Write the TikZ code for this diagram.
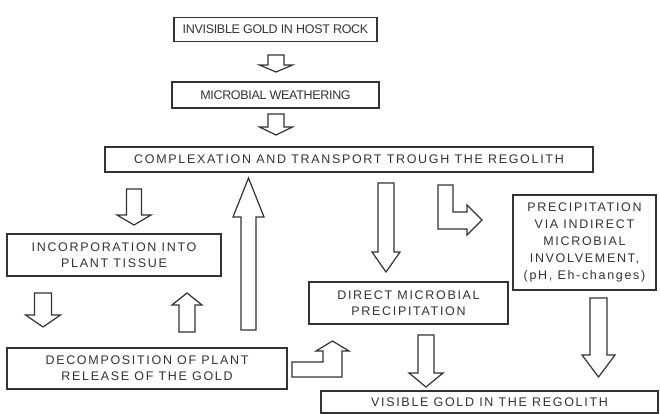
\documentclass[tikz,border=0pt]{standalone}
\usepackage{fontspec}
\setmainfont{Liberation Sans}
\newfontfamily\wideff[LetterSpace=13.5]{Liberation Sans}
\newfontfamily\tightff[LetterSpace=-2.5]{Liberation Sans}
\newcommand\vblock[6]{%
  \draw[barrow] ({#1-#5},#2) -- ({#1+#5},#2) -- ({#1+#5},#3) -- ({#1+#6},#3) -- (#1,#4)
   -- ({#1-#6},#3) -- ({#1-#5},#3) -- cycle;}
\tikzset{
  box/.style={draw=black!80, line width=1.3pt, align=center, inner sep=0pt,
    font=\wideff\fontsize{12.5}{16}\selectfont, text=black!80},
  barrow/.style={draw=black!80, line width=1.2pt, line join=miter, fill=white}
}
\begin{document}
\begin{tikzpicture}[x=1pt,y=-1pt]
\useasboundingbox (0,0) rectangle (660,414);
\node[box, font=\tightff\fontsize{12.5}{16}\selectfont, minimum width=203pt, minimum height=24pt] (host) at (275.5,29.5) {INVISIBLE GOLD IN HOST ROCK};
\node[box, font=\tightff\fontsize{12.5}{16}\selectfont, minimum width=207pt, minimum height=26pt] (weath) at (275.5,95) {MICROBIAL WEATHERING};
\node[box, minimum width=488pt, minimum height=25pt] (compl) at (349,159.5) {COMPLEXATION AND TRANSPORT TROUGH THE REGOLITH};
\node[box, minimum width=214pt, minimum height=42pt] (incorp) at (114,255) {INCORPORATION INTO\\PLANT TISSUE};
\node[box, minimum width=280pt, minimum height=41pt] (decomp) at (147,368.5) {DECOMPOSITION OF PLANT\\RELEASE OF THE GOLD};
\node[box, minimum width=199pt, minimum height=42pt] (direct) at (408.5,303) {DIRECT MICROBIAL\\PRECIPITATION};
\node[box, font=\wideff\fontsize{12.5}{17}\selectfont, minimum width=143pt, minimum height=95pt] (indirect) at (584.5,242.5) {PRECIPITATION\\VIA INDIRECT\\MICROBIAL\\INVOLVEMENT,\\(pH, Eh-changes)};
\node[box, minimum width=337pt, minimum height=22pt] (visible) at (489.5,402) {VISIBLE GOLD IN THE REGOLITH};
% block arrows
\vblock{276}{55}{65}{72}{8}{16.5}
\vblock{276}{114}{127}{135}{8}{16.5}
\vblock{134}{189}{215}{225}{7.5}{17}
\vblock{248.5}{330}{217}{178}{7.5}{15.5}
\vblock{43}{293}{315}{327}{8.5}{17.5}
\vblock{187}{332}{305}{293}{8}{15}
\vblock{386}{183}{252}{272}{8}{14}
\vblock{598.5}{298}{355}{377}{8.5}{16.5}
\vblock{426}{335}{373}{387}{8}{17}
% bent arrows
\draw[barrow] (292,377) -- (292,362) -- (323,362) -- (323,351) -- (316,351) -- (332.5,341)
  -- (349,351) -- (342,351) -- (342,377) -- cycle;
\draw[barrow] (438,185) -- (453,185) -- (453,212) -- (467,212) -- (467,205) -- (482,220)
  -- (467,235) -- (467,229) -- (438,229) -- cycle;
\end{tikzpicture}
\end{document}
